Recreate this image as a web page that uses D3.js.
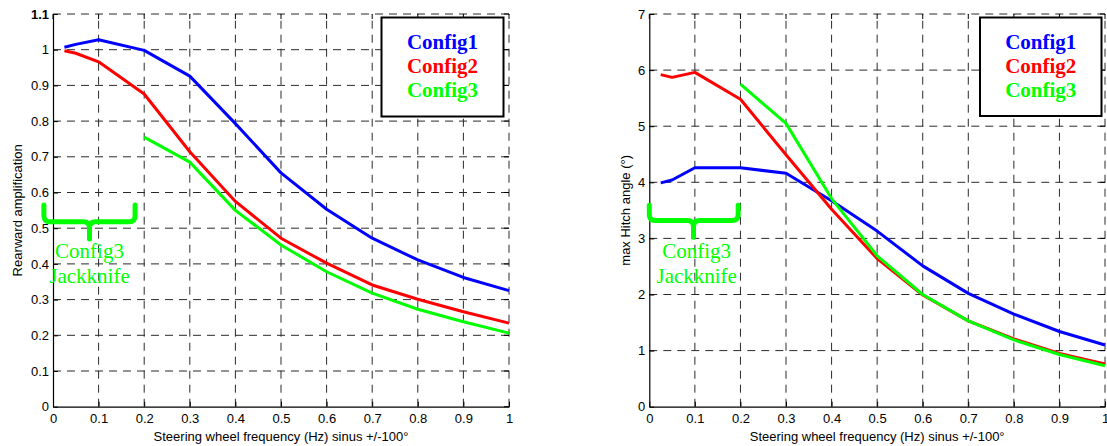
<!DOCTYPE html>
<html>
<head>
<meta charset="utf-8">
<script src="https://cdn.jsdelivr.net/npm/d3@7/dist/d3.min.js"></script>
<style>
  html, body { margin: 0; padding: 0; background: #fff; }
  svg { display: block; }
  .tick text { font-family: "Liberation Sans", Arial, sans-serif; font-size: 13px; fill: #000; }
</style>
</head>
<body>
<svg id="chart" width="1107" height="446"></svg>
<script>
// Steering wheel frequency (Hz), shared by both panels
const freq = [0.025, 0.05, 0.1, 0.2, 0.3, 0.4, 0.5, 0.6, 0.7, 0.8, 0.9, 1.0];

// Rearward amplification per configuration (null = jackknife, no value)
const ampConfig1 = [1.007, 1.015, 1.028, 0.998, 0.926, 0.793, 0.655, 0.553, 0.472, 0.411, 0.362, 0.325];
const ampConfig2 = [0.997, 0.99, 0.966, 0.876, 0.714, 0.575, 0.472, 0.402, 0.341, 0.301, 0.266, 0.234];
const ampConfig3 = [null, null, null, 0.755, 0.685, 0.55, 0.453, 0.378, 0.318, 0.273, 0.238, 0.206];

// Max hitch angle (°) per configuration
const hitchConfig1 = [3.99, 4.04, 4.26, 4.26, 4.16, 3.67, 3.13, 2.51, 2.02, 1.65, 1.34, 1.10];
const hitchConfig2 = [5.92, 5.87, 5.96, 5.48, 4.49, 3.52, 2.64, 1.99, 1.53, 1.21, 0.95, 0.76];
const hitchConfig3 = [null, null, null, 5.75, 5.05, 3.71, 2.69, 2.0, 1.53, 1.19, 0.93, 0.73];

const seriesNames = ["Config1", "Config2", "Config3"];
const seriesColors = ["#0000ff", "#ff0000", "#00ff00"];

const xTicks = [0, 0.1, 0.2, 0.3, 0.4, 0.5, 0.6, 0.7, 0.8, 0.9, 1];
const ampTicks = [0, 0.1, 0.2, 0.3, 0.4, 0.5, 0.6, 0.7, 0.8, 0.9, 1, 1.1];
const hitchTicks = [0, 1, 2, 3, 4, 5, 6, 7];

const xLabel = "Steering wheel frequency (Hz) sinus +/-100°";
const noteLines = ["Config3", "Jackknife"];

const svg = d3.select("#chart");

function drawPanel(opt) {
  const x = d3.scaleLinear().domain([0, 1]).range([opt.left, opt.right]);
  const y = d3.scaleLinear().domain(opt.yDomain).range([opt.bottom, opt.top]);
  const g = svg.append("g");

  // dashed grid, including the top and right frame lines
  const grid = g.append("g").attr("stroke", "#2a2a2a").attr("stroke-width", 1)
    .attr("stroke-dasharray", "8,6").attr("fill", "none");
  grid.selectAll("line.v").data(xTicks.filter(d => d > 0)).join("line")
    .attr("x1", d => x(d)).attr("x2", d => x(d))
    .attr("y1", opt.bottom).attr("y2", opt.top);
  grid.selectAll("line.h").data(opt.yTicks.filter(d => d > 0)).join("line")
    .attr("x1", opt.left).attr("x2", opt.right)
    .attr("y1", d => y(d)).attr("y2", d => y(d));

  // small tick marks on the top and right frame
  const fr = g.append("g").attr("stroke", "#000").attr("stroke-width", 1);
  fr.selectAll("line.t").data(xTicks).join("line")
    .attr("x1", d => x(d)).attr("x2", d => x(d))
    .attr("y1", opt.top).attr("y2", opt.top + 5);
  fr.selectAll("line.r").data(opt.yTicks).join("line")
    .attr("x1", opt.right).attr("x2", opt.right - 5)
    .attr("y1", d => y(d)).attr("y2", d => y(d));

  // axes with inward ticks
  const xAxis = d3.axisBottom(x).tickValues(xTicks).tickSizeInner(-5).tickSizeOuter(0)
    .tickPadding(7).tickFormat(d3.format("~g"));
  const gx = g.append("g").attr("transform", `translate(0,${opt.bottom})`).call(xAxis);
  const yAxis = d3.axisLeft(y).tickValues(opt.yTicks).tickSizeInner(-5).tickSizeOuter(0)
    .tickPadding(4).tickFormat(d3.format("~g"));
  const gy = g.append("g").attr("transform", `translate(${opt.left},0)`).call(yAxis);
  [gx, gy].forEach(a => {
    a.select(".domain").attr("stroke", "#000").attr("stroke-width", 1.2);
    a.selectAll(".tick line").attr("stroke", "#000");
    a.attr("font-family", null).attr("font-size", null);
  });
  if (opt.boldTop) {
    gy.selectAll(".tick text").filter(d => d === opt.yDomain[1]).attr("font-weight", "bold");
  }

  // axis titles
  g.append("text").attr("x", (opt.left + opt.right) / 2).attr("y", 441)
    .attr("text-anchor", "middle").attr("font-family", "Liberation Sans, Arial, sans-serif")
    .attr("font-size", 13).text(xLabel);
  g.append("text").attr("transform", `translate(${opt.yLabelX},${(opt.top + opt.bottom) / 2}) rotate(-90)`)
    .attr("text-anchor", "middle").attr("font-family", "Liberation Sans, Arial, sans-serif")
    .attr("font-size", 13).text(opt.yLabel);

  // data lines
  const line = d3.line().defined(d => d[1] !== null).x(d => x(d[0])).y(d => y(d[1]));
  opt.series.forEach((vals, i) => {
    g.append("path").datum(freq.map((f, k) => [f, vals[k]]))
      .attr("fill", "none").attr("stroke", seriesColors[i]).attr("stroke-width", 3)
      .attr("stroke-linejoin", "round").attr("d", line);
  });

  // brace marking the jackknife range
  const b = opt.brace;
  const bx0 = x(b.x0), bx1 = x(b.x1), bm = x(b.xm);
  const yt = y(b.yTip), yb = y(b.yBar), ys = y(b.ySpike);
  const r = 6;
  const bracePath = `M${bx0},${yt} L${bx0},${yb - r} Q${bx0},${yb} ${bx0 + r},${yb}` +
    ` L${bm - r},${yb} Q${bm},${yb} ${bm},${yb + r} L${bm},${ys}` +
    ` M${bm},${yb + r} Q${bm},${yb} ${bm + r},${yb} L${bx1 - r},${yb} Q${bx1},${yb} ${bx1},${yb - r} L${bx1},${yt}`;
  g.append("path").attr("d", bracePath).attr("fill", "none").attr("stroke", "#00ff00")
    .attr("stroke-width", 5).attr("stroke-linecap", "round").attr("stroke-linejoin", "round");
  g.selectAll("text.note").data(noteLines).join("text")
    .attr("x", x(b.textX)).attr("y", (d, i) => b.textY + i * 25)
    .attr("text-anchor", "middle").attr("font-family", "Liberation Serif, 'Times New Roman', serif")
    .attr("font-size", 21).attr("fill", "#00ff00").text(d => d);

  // legend
  const L = opt.legend;
  g.append("rect").attr("x", L.x).attr("y", L.y).attr("width", L.w).attr("height", L.h)
    .attr("fill", "#fff").attr("stroke", "#000").attr("stroke-width", 2);
  g.selectAll("text.leg").data(seriesNames).join("text")
    .attr("x", L.x + L.w / 2).attr("y", (d, i) => L.y + 31 + i * 24.2)
    .attr("text-anchor", "middle").attr("font-family", "Liberation Serif, 'Times New Roman', serif")
    .attr("font-weight", "bold").attr("font-size", 21)
    .attr("fill", (d, i) => seriesColors[i]).text(d => d);
}

drawPanel({
  left: 53, right: 509, top: 14, bottom: 406.7,
  yDomain: [0, 1.1], yTicks: ampTicks, boldTop: true,
  yLabel: "Rearward amplification", yLabelX: 22,
  series: [ampConfig1, ampConfig2, ampConfig3],
  brace: { x0: -0.02, x1: 0.18, xm: 0.08, yTip: 0.565, yBar: 0.518, ySpike: 0.47, textX: 0.08, textY: 258 },
  legend: { x: 381.5, y: 17.5, w: 122, h: 99 }
});

drawPanel({
  left: 649.3, right: 1105, top: 14, bottom: 406.7,
  yDomain: [0, 7], yTicks: hitchTicks, boldTop: false,
  yLabel: "max Hitch angle (°)", yLabelX: 630,
  series: [hitchConfig1, hitchConfig2, hitchConfig3],
  brace: { x0: 0.0, x1: 0.195, xm: 0.097, yTip: 3.59, yBar: 3.32, ySpike: 3.02, textX: 0.104, textY: 258 },
  legend: { x: 980, y: 17.5, w: 121.5, h: 98.5 }
});
</script>
</body>
</html>
